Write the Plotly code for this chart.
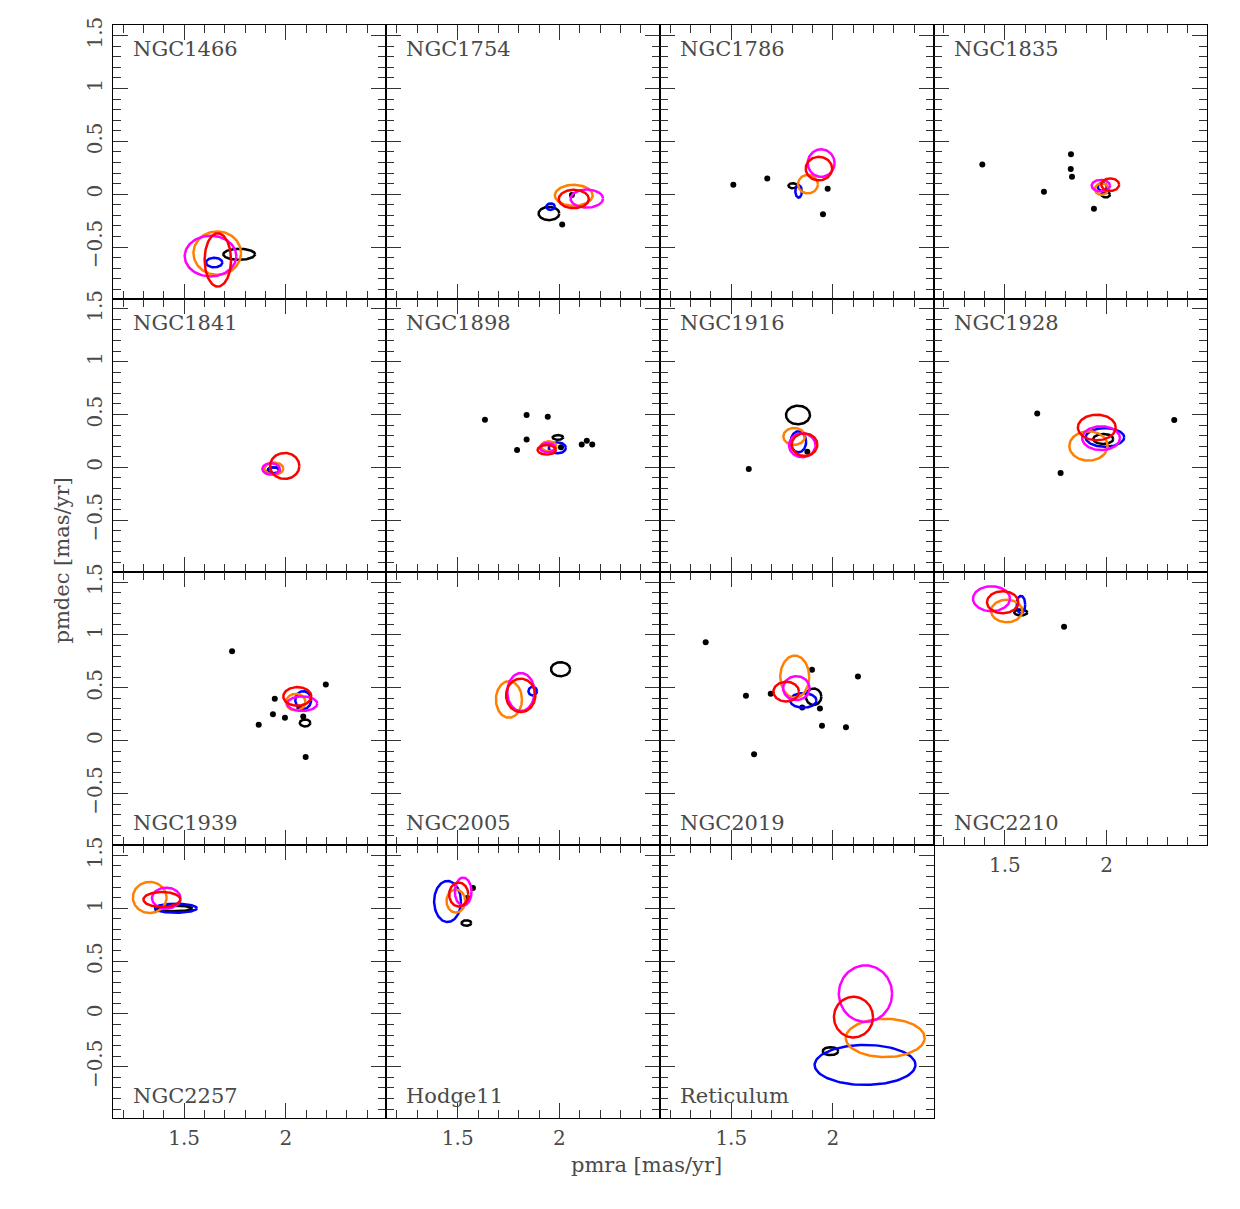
import numpy as np
import plotly.graph_objects as go

# ---------------- data ----------------
clusters = ["NGC1466", "NGC1754", "NGC1786", "NGC1835", "NGC1841", "NGC1898",
            "NGC1916", "NGC1928", "NGC1939", "NGC2005", "NGC2019", "NGC2210",
            "NGC2257", "Hodge11", "Reticulum"]

# ellipses: (pmra centre, pmdec centre, semi-axis pmra, semi-axis pmdec)
black_ell = [(1.771, -0.569, 0.078, 0.052), (1.949, -0.183, 0.051, 0.063),
             (1.802, 0.080, 0.021, 0.024), (1.996, -0.005, 0.021, 0.026),
             (1.941, -0.030, 0.031, 0.031), (1.993, 0.284, 0.026, 0.022),
             (1.828, 0.496, 0.059, 0.088), (1.984, 0.269, 0.049, 0.047),
             (2.095, 0.168, 0.026, 0.033), (2.006, 0.676, 0.047, 0.066),
             (1.905, 0.416, 0.038, 0.078), (1.578, 1.213, 0.032, 0.028),
             (1.452, 0.998, 0.089, 0.026), (1.543, 0.860, 0.024, 0.026),
             (1.988, -0.352, 0.038, 0.038)]
blue_ell = [(1.648, -0.647, 0.040, 0.045), (1.957, -0.118, 0.021, 0.031),
            (1.831, 0.026, 0.016, 0.059), (1.979, 0.069, 0.022, 0.038),
            (1.940, -0.027, 0.027, 0.028), (1.990, 0.185, 0.042, 0.052),
            (1.830, 0.242, 0.038, 0.099), (1.992, 0.284, 0.095, 0.088),
            (2.086, 0.384, 0.039, 0.085), (1.869, 0.469, 0.021, 0.041),
            (1.854, 0.381, 0.065, 0.069), (1.579, 1.288, 0.021, 0.082),
            (1.460, 1.000, 0.103, 0.043), (1.450, 1.064, 0.066, 0.194),
            (2.158, -0.482, 0.248, 0.189)]
orange_ell = [(1.663, -0.558, 0.117, 0.205), (2.071, -0.011, 0.093, 0.099),
              (1.877, 0.095, 0.049, 0.088), (1.976, 0.048, 0.033, 0.055),
              (1.942, -0.011, 0.046, 0.057), (1.948, 0.200, 0.038, 0.047),
              (1.809, 0.293, 0.053, 0.080), (1.911, 0.203, 0.094, 0.139),
              (2.049, 0.365, 0.048, 0.078), (1.752, 0.390, 0.064, 0.173),
              (1.812, 0.605, 0.071, 0.200), (1.509, 1.227, 0.077, 0.106),
              (1.331, 1.102, 0.083, 0.147), (1.491, 1.068, 0.046, 0.109),
              (2.257, -0.227, 0.194, 0.181)]
magenta_ell = [(1.630, -0.586, 0.127, 0.192), (2.135, -0.042, 0.080, 0.085),
               (1.942, 0.294, 0.066, 0.130), (1.972, 0.080, 0.045, 0.055),
               (1.928, -0.014, 0.043, 0.054), (1.942, 0.187, 0.037, 0.044),
               (1.849, 0.209, 0.065, 0.113), (1.973, 0.277, 0.093, 0.112),
               (2.081, 0.350, 0.074, 0.069), (1.811, 0.460, 0.067, 0.180),
               (1.820, 0.497, 0.065, 0.113), (1.434, 1.343, 0.091, 0.118),
               (1.412, 1.096, 0.070, 0.099), (1.527, 1.158, 0.041, 0.132),
               (2.160, 0.192, 0.131, 0.267)]
red_ell = [(1.666, -0.622, 0.065, 0.252), (2.071, -0.046, 0.074, 0.087),
           (1.931, 0.242, 0.065, 0.111), (2.018, 0.090, 0.044, 0.059),
           (1.995, 0.014, 0.072, 0.123), (1.938, 0.166, 0.045, 0.045),
           (1.860, 0.215, 0.063, 0.107), (1.952, 0.378, 0.093, 0.121),
           (2.057, 0.419, 0.069, 0.088), (1.810, 0.429, 0.072, 0.158),
           (1.770, 0.464, 0.063, 0.093), (1.489, 1.310, 0.077, 0.104),
           (1.391, 1.083, 0.091, 0.071), (1.505, 1.130, 0.047, 0.113),
           (2.101, -0.030, 0.096, 0.192)]

# individual stars (black dots)
stars_pmra = [[], [2.062, 2.014], [1.510, 1.677, 1.974, 1.951],
              [1.389, 1.692, 1.825, 1.824, 1.830, 1.938], [],
              [1.634, 1.839, 1.943, 1.839, 1.792, 2.110, 2.135, 2.162, 2.008],
              [1.874, 1.586], [1.659, 1.774, 2.333],
              [1.736, 2.197, 1.946, 2.067, 1.937, 1.996, 2.086, 1.867, 2.098], [],
              [1.374, 1.572, 1.694, 1.897, 2.123, 1.849, 1.936, 1.946, 2.064, 1.612],
              [1.791], [1.368], [1.575, 1.547], []]
stars_pmdec = [[], [-0.009, -0.287], [0.088, 0.147, 0.050, -0.189],
               [0.280, 0.022, 0.378, 0.239, 0.164, -0.139], [],
               [0.452, 0.496, 0.480, 0.263, 0.165, 0.218, 0.253, 0.218, 0.190],
               [0.149, -0.014], [0.509, -0.052, 0.449],
               [0.847, 0.532, 0.397, 0.312, 0.249, 0.217, 0.230, 0.151, -0.155], [],
               [0.932, 0.425, 0.444, 0.671, 0.608, 0.315, 0.305, 0.142, 0.126, -0.129],
               [1.078], [0.993], [1.192, 1.097], []]

ytick_vals = [-0.5, 0, 0.5, 1, 1.5]
ytick_text = ["\u22120.5", "0", "0.5", "1", "1.5"]
xtick_vals = [1.5, 2]
xtick_text = ["1.5", "2"]

# ---------------- layout geometry ----------------
W, H = 1240, 1209
# observed vertical mapping of the rendered page
Y_OFF, H_EFF = 8.0, 1201.0
L0, T0 = 112.7, 24.3
PW, PH = 273.6, 273.5
XRANGE = [1.1488, 2.4946]
YRANGE = [-0.9877, 1.5974]
FONT = "DejaVu Serif"
TXT = "#4a4a4a"


def px_x(px):
    return px / W


def px_y(py):
    return 1 - (py - Y_OFF) / H_EFF


colors = {"black": "#000000", "blue": "#0000ff", "orange": "#ff8000",
          "magenta": "#ff00ff", "red": "#ff0000"}
ell_sets = [("black", black_ell), ("blue", blue_ell), ("orange", orange_ell),
            ("magenta", magenta_ell), ("red", red_ell)]

t = np.linspace(0, 2 * np.pi, 121)
fig = go.Figure()
annotations = []

for i, name in enumerate(clusters):
    r, c = divmod(i, 4)
    idx = i + 1
    xa = "x" if idx == 1 else f"x{idx}"
    ya = "y" if idx == 1 else f"y{idx}"
    xl = "xaxis" if idx == 1 else f"xaxis{idx}"
    yl = "yaxis" if idx == 1 else f"yaxis{idx}"

    left = L0 + c * PW
    top = T0 + r * PH
    xdom = [px_x(left), px_x(left + PW)]
    ydom = [px_y(top + PH), px_y(top)]

    if stars_pmra[i]:
        fig.add_trace(go.Scatter(x=stars_pmra[i], y=stars_pmdec[i], mode="markers",
                                 marker=dict(color="black", size=6),
                                 xaxis=xa, yaxis=ya, showlegend=False,
                                 hoverinfo="skip"))
    for cname, lst in ell_sets:
        cx, cy, rx, ry = lst[i]
        fig.add_trace(go.Scatter(x=cx + rx * np.cos(t), y=cy + ry * np.sin(t),
                                 mode="lines",
                                 line=dict(color=colors[cname], width=2.5),
                                 xaxis=xa, yaxis=ya, showlegend=False,
                                 hoverinfo="skip"))

    common = dict(showline=True, linecolor="black", linewidth=1, mirror="ticks",
                  ticks="inside", ticklen=15, tickwidth=1, tickcolor="#333333",
                  showgrid=False, zeroline=False,
                  tickfont=dict(family=FONT, size=20, color=TXT),
                  minor=dict(ticks="inside", ticklen=8, dtick=0.1, tick0=0,
                             tickcolor="#333333", tickwidth=1, showgrid=False))
    fig.layout[xl] = dict(domain=xdom, range=XRANGE, anchor=ya,
                          tickmode="array", tickvals=xtick_vals, ticktext=xtick_text,
                          showticklabels=(i >= 11), ticklabelstandoff=2,
                          **common)
    fig.layout[yl] = dict(domain=ydom, range=YRANGE, anchor=xa,
                          tickmode="array", tickvals=ytick_vals, ticktext=ytick_text,
                          showticklabels=(c == 0), tickangle=-90,
                          ticklabelstandoff=2, **common)

    if r < 2:
        ly = px_y(top + 24)
    else:
        ly = px_y(top + PH - 22)
    annotations.append(dict(text=name, x=px_x(left + 18), y=ly, xref="paper",
                            yref="paper", xanchor="left", yanchor="middle",
                            showarrow=False,
                            font=dict(family=FONT, size=21, color=TXT)))

annotations.append(dict(text="pmra [mas/yr]", x=px_x(646), y=px_y(1165),
                        xref="paper", yref="paper", xanchor="center",
                        yanchor="middle", showarrow=False,
                        font=dict(family=FONT, size=21, color=TXT)))
annotations.append(dict(text="pmdec [mas/yr]", x=px_x(62), y=px_y(560),
                        xref="paper", yref="paper", xanchor="center",
                        yanchor="middle", showarrow=False, textangle=-90,
                        font=dict(family=FONT, size=21, color=TXT)))

fig.update_layout(width=W, height=H, margin=dict(l=0, r=0, t=0, b=0),
                  paper_bgcolor="white", plot_bgcolor="white",
                  annotations=annotations, showlegend=False)
fig.write_html("out.html")
